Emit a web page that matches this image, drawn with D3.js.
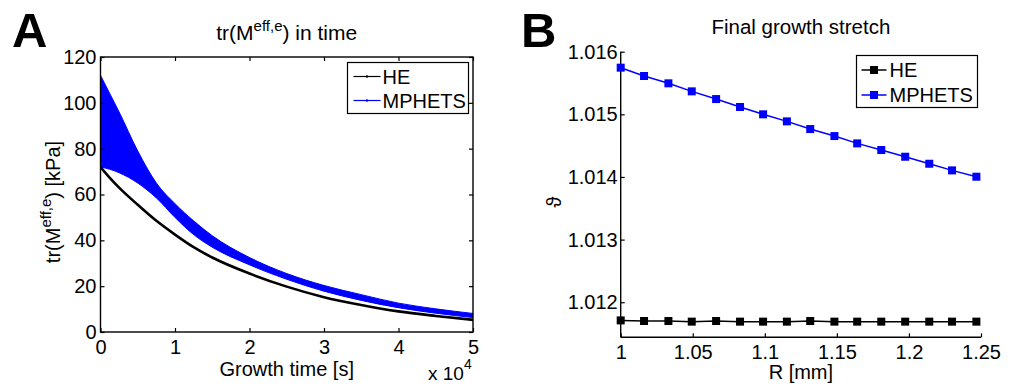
<!DOCTYPE html>
<html>
<head>
<meta charset="utf-8">
<script src="https://cdn.jsdelivr.net/npm/d3@7"></script>
<style>
    body { margin: 0; background: #fff; }
    svg { display: block; }
</style>
</head>
<body>
<div id="chart"></div>
<script>

// Panel A: trace of effective stress over growth time (time in 1e4 s)
const timeA   = [0, 0.125, 0.25, 0.5, 0.75, 1.0, 1.25, 1.5, 2.0, 2.5, 3.0, 3.5, 4.0, 4.5, 5.0];
const heA     = [72, 67.3, 63, 55.5, 48.5, 42.5, 37, 32.5, 25.5, 19.8, 15.2, 11.8, 9.0, 7.0, 5.3];
const bandTop = [112, 104, 96, 79, 65, 56, 48.5, 42, 32.5, 25.5, 20.3, 16.3, 12.6, 10.1, 8.1];
const bandLow = [72, 71, 69.5, 65, 58.5, 50, 42.5, 37, 29.3, 23, 17.8, 13.8, 10.6, 8.2, 6.3];
const xTicksA = [0, 1, 2, 3, 4, 5];
const yTicksA = [0, 20, 40, 60, 80, 100, 120];

// Panel B: final growth stretch vs radius
const radiusB = [1, 1.0162, 1.0331, 1.0493, 1.0662, 1.0828, 1.0988, 1.1153, 1.1315, 1.1483,
                 1.1641, 1.1808, 1.1974, 1.2141, 1.2299, 1.2468];
const mphetsB = [1.015745, 1.015612, 1.015495, 1.015367, 1.015244, 1.015117, 1.015000, 1.014888,
                 1.014765, 1.014653, 1.014536, 1.014430, 1.014323, 1.014211, 1.014105, 1.014004];
const heB     = [1.01171, 1.01170, 1.01170, 1.01169, 1.01170, 1.01169, 1.01169, 1.01169,
                 1.01170, 1.01169, 1.01169, 1.01169, 1.01169, 1.01169, 1.01169, 1.01169];
const xTicksB = [1, 1.05, 1.1, 1.15, 1.2, 1.25];
const yTicksB = [1.012, 1.013, 1.014, 1.015, 1.016];

const font = 'Liberation Sans, Arial, Helvetica, sans-serif';
const blue = '#0000ff';

const svg = d3.select('#chart').append('svg')
    .attr('width', 1018)
    .attr('height', 385)
    .style('font-family', font);

function styleAxis(g) {
    g.select('.domain').remove();
    g.selectAll('line').attr('stroke', '#000').attr('stroke-width', 1.2);
    g.selectAll('text').attr('font-size', 20).attr('font-family', font).attr('fill', '#000');
    g.attr('font-family', null).attr('font-size', null);
}

// ---------- Panel A ----------
const xA = d3.scaleLinear().domain([0, 5]).range([100.5, 473]);
const yA = d3.scaleLinear().domain([0, 120]).range([332, 57]);

svg.append('text')
    .attr('x', 12).attr('y', 47)
    .attr('font-size', 49).attr('font-weight', 'bold')
    .text('A');

svg.append('defs').append('clipPath')
    .attr('id', 'clipA')
    .append('rect')
    .attr('x', xA(0)).attr('y', yA(120))
    .attr('width', xA(5) - xA(0)).attr('height', yA(0) - yA(120));

const plotA = svg.append('g').attr('clip-path', 'url(#clipA)');

const band = d3.area()
    .x((d, i) => xA(timeA[i]))
    .y0((d, i) => yA(bandLow[i]))
    .y1((d, i) => yA(bandTop[i]))
    .curve(d3.curveMonotoneX);

plotA.append('path')
    .datum(timeA)
    .attr('d', band)
    .attr('fill', blue)
    .attr('stroke', blue)
    .attr('stroke-width', 1);

const lineA = d3.line()
    .x((d, i) => xA(timeA[i]))
    .y(d => yA(d))
    .curve(d3.curveMonotoneX);

plotA.append('path')
    .datum(heA)
    .attr('d', lineA)
    .attr('fill', 'none')
    .attr('stroke', '#000')
    .attr('stroke-width', 2.6);

svg.append('g')
    .attr('transform', 'translate(0,' + yA(0) + ')')
    .call(d3.axisBottom(xA).tickValues(xTicksA).tickSize(-4).tickPadding(8).tickFormat(d3.format('d')))
    .call(styleAxis);

svg.append('g')
    .attr('transform', 'translate(0,' + yA(120) + ')')
    .call(d3.axisTop(xA).tickValues(xTicksA).tickSize(-4).tickFormat(''))
    .call(styleAxis);

svg.append('g')
    .attr('transform', 'translate(' + xA(0) + ',0)')
    .call(d3.axisLeft(yA).tickValues(yTicksA).tickSize(-4).tickPadding(4))
    .call(styleAxis);

svg.append('g')
    .attr('transform', 'translate(' + xA(5) + ',0)')
    .call(d3.axisRight(yA).tickValues(yTicksA).tickSize(-4).tickFormat(''))
    .call(styleAxis);

svg.append('rect')
    .attr('x', xA(0)).attr('y', yA(120))
    .attr('width', xA(5) - xA(0)).attr('height', yA(0) - yA(120))
    .attr('fill', 'none')
    .attr('stroke', '#000')
    .attr('stroke-width', 1.4);

// title
const titleA = svg.append('text')
    .attr('x', (xA(0) + xA(5)) / 2).attr('y', 40)
    .attr('text-anchor', 'middle')
    .attr('font-size', 21);
titleA.append('tspan').text('tr(M');
titleA.append('tspan').attr('dy', -9).attr('font-size', 15).text('eff,e');
titleA.append('tspan').attr('dy', 9).text(') in time');

// axis labels
svg.append('text')
    .attr('x', (xA(0) + xA(5)) / 2).attr('y', 376)
    .attr('text-anchor', 'middle')
    .attr('font-size', 20)
    .text('Growth time [s]');

const expo = svg.append('text')
    .attr('x', 428).attr('y', 380)
    .attr('font-size', 19);
expo.append('tspan').text('x 10');
expo.append('tspan').attr('dy', -11).attr('font-size', 14).text('4');

const yLabA = svg.append('text')
    .attr('transform', 'translate(60,202) rotate(-90)')
    .attr('text-anchor', 'middle')
    .attr('font-size', 20);
yLabA.append('tspan').text('tr(M');
yLabA.append('tspan').attr('dy', -9).attr('font-size', 15).text('eff,e');
yLabA.append('tspan').attr('dy', 9).text(') [kPa]');

// legend A
const legA = svg.append('g').attr('transform', 'translate(347.5,62.5)');
legA.append('rect')
    .attr('width', 121).attr('height', 51)
    .attr('fill', '#fff').attr('stroke', '#000').attr('stroke-width', 1.2);
[['HE', '#000'], ['MPHETS', blue]].forEach(function (e, i) {
    const y = 14 + i * 24;
    legA.append('line')
        .attr('x1', 6).attr('x2', 33).attr('y1', y).attr('y2', y)
        .attr('stroke', e[1]).attr('stroke-width', 1.2);
    legA.append('circle')
        .attr('cx', 19.5).attr('cy', y).attr('r', 1.2)
        .attr('fill', e[1]);
    legA.append('text')
        .attr('x', 35).attr('y', y + 7)
        .attr('font-size', 20)
        .text(e[0]);
});

// ---------- Panel B ----------
const xB = d3.scaleLinear().domain([1, 1.25]).range([620.7, 981]);
const yB = d3.scaleLinear().domain([1.01144, 1.016]).range([337.3, 51.7]);

svg.append('text')
    .attr('x', 521).attr('y', 47)
    .attr('font-size', 49).attr('font-weight', 'bold')
    .text('B');

svg.append('text')
    .attr('x', (xB(1) + xB(1.25)) / 2).attr('y', 34)
    .attr('text-anchor', 'middle')
    .attr('font-size', 20.5)
    .text('Final growth stretch');

svg.append('g')
    .attr('transform', 'translate(0,' + yB.range()[0] + ')')
    .call(d3.axisBottom(xB).tickValues(xTicksB).tickSize(-4).tickPadding(8).tickFormat(d => d3.format('')(+d.toFixed(2))))
    .call(styleAxis);

svg.append('g')
    .attr('transform', 'translate(' + xB(1) + ',0)')
    .call(d3.axisLeft(yB).tickValues(yTicksB).tickSize(-4).tickPadding(3).tickFormat(d3.format('.3f')))
    .call(styleAxis);

svg.append('line')
    .attr('x1', xB(1)).attr('x2', xB(1.25))
    .attr('y1', yB.range()[0]).attr('y2', yB.range()[0])
    .attr('stroke', '#000').attr('stroke-width', 1.4);

svg.append('line')
    .attr('x1', xB(1)).attr('x2', xB(1))
    .attr('y1', yB.range()[0]).attr('y2', yB.range()[1])
    .attr('stroke', '#000').attr('stroke-width', 1.4);

const lineB = d3.line()
    .x((d, i) => xB(radiusB[i]))
    .y(d => yB(d));

[[heB, '#000'], [mphetsB, blue]].forEach(function (s) {
    svg.append('path')
        .datum(s[0])
        .attr('d', lineB)
        .attr('fill', 'none')
        .attr('stroke', s[1])
        .attr('stroke-width', 1.5);

    svg.append('g').selectAll('rect')
        .data(s[0])
        .enter().append('rect')
        .attr('x', (d, i) => xB(radiusB[i]) - 4)
        .attr('y', d => yB(d) - 4)
        .attr('width', 8).attr('height', 8)
        .attr('fill', s[1]);
});

svg.append('text')
    .attr('x', (xB(1) + xB(1.25)) / 2).attr('y', 379)
    .attr('text-anchor', 'middle')
    .attr('font-size', 20)
    .text('R [mm]');

svg.append('text')
    .attr('transform', 'translate(561,202) rotate(-90)')
    .attr('text-anchor', 'middle')
    .attr('font-size', 20)
    .text('\u03D1');

// legend B
const legB = svg.append('g').attr('transform', 'translate(856.5,55.5)');
legB.append('rect')
    .attr('width', 121).attr('height', 52)
    .attr('fill', '#fff').attr('stroke', '#000').attr('stroke-width', 1.2);
[['HE', '#000'], ['MPHETS', blue]].forEach(function (e, i) {
    const y = 14.5 + i * 25;
    legB.append('line')
        .attr('x1', 5).attr('x2', 30).attr('y1', y).attr('y2', y)
        .attr('stroke', e[1]).attr('stroke-width', 1.5);
    legB.append('rect')
        .attr('x', 13.5).attr('y', y - 4)
        .attr('width', 8).attr('height', 8)
        .attr('fill', e[1]);
    legB.append('text')
        .attr('x', 33).attr('y', y + 7)
        .attr('font-size', 20)
        .text(e[0]);
});

</script>
</body>
</html>
